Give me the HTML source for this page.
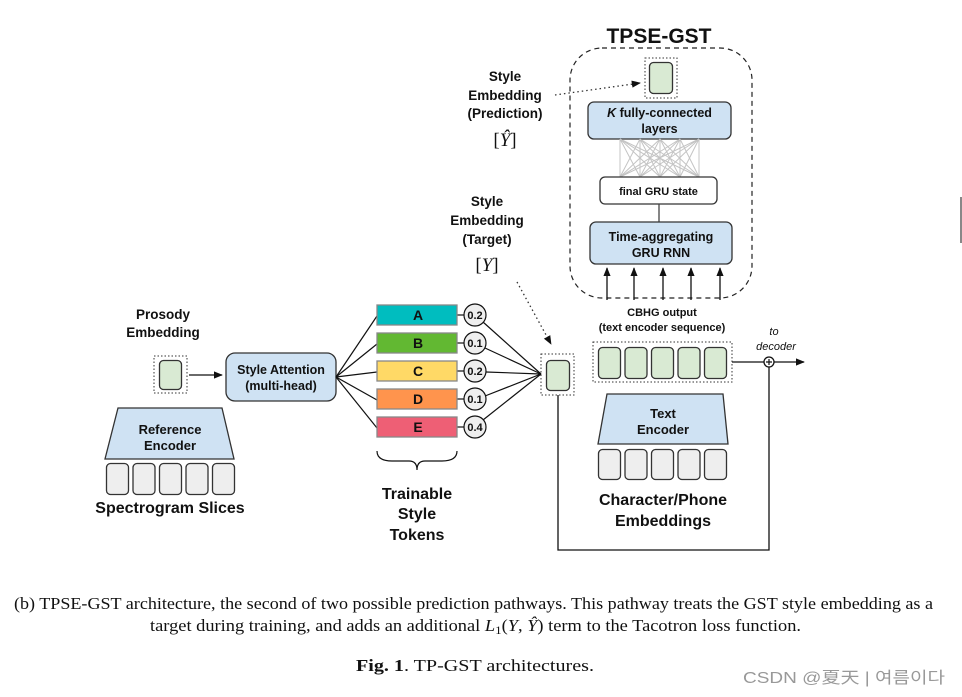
<!DOCTYPE html>
<html><head><meta charset="utf-8"><style>
html,body{margin:0;padding:0;background:#fff;}
svg{display:block;}
.b{font-family:"Liberation Sans",sans-serif;font-weight:bold;fill:#111;}
.s{font-family:"Liberation Serif",serif;fill:#111;}
</style></head><body>
<svg width="962" height="697" viewBox="0 0 962 697" xmlns="http://www.w3.org/2000/svg">
<defs>
<marker id="ah" viewBox="0 0 10 10" refX="9" refY="5" markerWidth="7" markerHeight="7" orient="auto"><path d="M0,1 L10,5 L0,9 z" fill="#111"/></marker>
</defs>
<rect x="960" y="197" width="2" height="46" fill="#888"/>

<!-- TPSE-GST -->
<text x="659" y="43" text-anchor="middle" class="b" font-size="21">TPSE-GST</text>
<rect x="570" y="48" width="182" height="250" rx="32" fill="none" stroke="#222" stroke-dasharray="5,4" stroke-width="1.2"/>
<rect x="645" y="58" width="32" height="40" fill="none" stroke="#333" stroke-dasharray="1.5,2"/>
<rect x="649.5" y="62.5" width="23" height="31" rx="4" fill="#d9ead3" stroke="#333" stroke-width="1.3"/>
<rect x="588" y="102" width="143" height="37" rx="6" fill="#cfe2f3" stroke="#333" stroke-width="1.3"/>
<text x="659.5" y="117" text-anchor="middle" class="b" font-size="12.5"><tspan font-style="italic">K</tspan> fully-connected</text>
<text x="659.5" y="133" text-anchor="middle" class="b" font-size="12.5">layers</text>
<g stroke="#c4c4c4" stroke-width="1">
<line x1="620" y1="139" x2="620" y2="177"/><line x1="640" y1="139" x2="640" y2="177"/><line x1="660" y1="139" x2="660" y2="177"/><line x1="680" y1="139" x2="680" y2="177"/><line x1="699" y1="139" x2="699" y2="177"/>
<path d="M620,139 L640,177 M620,139 L660,177 M620,139 L680,177 M620,139 L699,177 M640,139 L620,177 M640,139 L660,177 M640,139 L680,177 M640,139 L699,177 M660,139 L620,177 M660,139 L640,177 M660,139 L680,177 M660,139 L699,177 M680,139 L620,177 M680,139 L640,177 M680,139 L660,177 M680,139 L699,177 M699,139 L620,177 M699,139 L640,177 M699,139 L660,177 M699,139 L680,177"/>
</g>
<rect x="600" y="177" width="117" height="27" rx="5" fill="#fff" stroke="#333" stroke-width="1.3"/>
<text x="658.5" y="195" text-anchor="middle" class="b" font-size="11">final GRU state</text>
<line x1="659" y1="204" x2="659" y2="222" stroke="#444" stroke-width="1.3"/>
<rect x="590" y="222" width="142" height="42" rx="6" fill="#cfe2f3" stroke="#333" stroke-width="1.3"/>
<text x="661" y="241" text-anchor="middle" class="b" font-size="12.5">Time-aggregating</text>
<text x="661" y="257" text-anchor="middle" class="b" font-size="12.5">GRU RNN</text>
<g stroke="#111" stroke-width="1.3">
<line x1="607" y1="300" x2="607" y2="268" marker-end="url(#ah)"/>
<line x1="634" y1="300" x2="634" y2="268" marker-end="url(#ah)"/>
<line x1="663" y1="300" x2="663" y2="268" marker-end="url(#ah)"/>
<line x1="691" y1="300" x2="691" y2="268" marker-end="url(#ah)"/>
<line x1="720" y1="300" x2="720" y2="268" marker-end="url(#ah)"/>
</g>

<!-- Style embedding prediction -->
<text x="505" y="81" text-anchor="middle" class="b" font-size="13.5">Style</text>
<text x="505" y="100" text-anchor="middle" class="b" font-size="13.5">Embedding</text>
<text x="505" y="118" text-anchor="middle" class="b" font-size="13.5">(Prediction)</text>
<text x="505" y="146" text-anchor="middle" class="s" font-size="19">[<tspan font-style="italic">Ŷ</tspan>]</text>
<line x1="555" y1="95" x2="640" y2="83" stroke="#333" stroke-dasharray="1.5,3" stroke-width="1.3" marker-end="url(#ah)"/>

<!-- Style embedding target -->
<text x="487" y="206" text-anchor="middle" class="b" font-size="13.5">Style</text>
<text x="487" y="225" text-anchor="middle" class="b" font-size="13.5">Embedding</text>
<text x="487" y="244" text-anchor="middle" class="b" font-size="13.5">(Target)</text>
<text x="487" y="271" text-anchor="middle" class="s" font-size="19">[<tspan font-style="italic">Y</tspan>]</text>
<line x1="517" y1="282" x2="551" y2="344" stroke="#333" stroke-dasharray="1.5,3" stroke-width="1.3" marker-end="url(#ah)"/>

<rect x="541" y="354" width="33" height="41" fill="none" stroke="#333" stroke-dasharray="1.5,2"/>
<rect x="546.5" y="360.5" width="23" height="30" rx="4" fill="#d9ead3" stroke="#333" stroke-width="1.3"/>

<!-- CBHG -->
<text x="662" y="316" text-anchor="middle" class="b" font-size="11">CBHG output</text>
<text x="662" y="331" text-anchor="middle" class="b" font-size="11">(text encoder sequence)</text>
<rect x="593" y="342" width="139" height="40" fill="none" stroke="#333" stroke-dasharray="1.5,2"/>
<g fill="#d9ead3" stroke="#333" stroke-width="1.3">
<rect x="598.5" y="347.5" width="22" height="31" rx="4"/><rect x="625" y="347.5" width="22" height="31" rx="4"/><rect x="651.5" y="347.5" width="22" height="31" rx="4"/><rect x="678" y="347.5" width="22" height="31" rx="4"/><rect x="704.5" y="347.5" width="22" height="31" rx="4"/>
</g>
<line x1="732" y1="362" x2="764" y2="362" stroke="#111" stroke-width="1.3"/>
<circle cx="769" cy="362" r="5" fill="#fff" stroke="#111" stroke-width="1.3"/>
<path d="M766,362 h6 M769,359 v6" stroke="#111" stroke-width="1.2"/>
<line x1="774" y1="362" x2="804" y2="362" stroke="#111" stroke-width="1.3" marker-end="url(#ah)"/>
<text x="774" y="335" text-anchor="middle" font-family="Liberation Sans,sans-serif" font-style="italic" font-size="11" fill="#111">to</text>
<text x="776" y="350" text-anchor="middle" font-family="Liberation Sans,sans-serif" font-style="italic" font-size="11" fill="#111">decoder</text>
<polygon points="607,394 723,394 728,444 598,444" fill="#cfe2f3" stroke="#333" stroke-width="1.3"/>
<text x="663" y="418" text-anchor="middle" class="b" font-size="13">Text</text>
<text x="663" y="434" text-anchor="middle" class="b" font-size="13">Encoder</text>
<g fill="#eee" stroke="#333" stroke-width="1.3">
<rect x="598.5" y="449.5" width="22" height="30" rx="4"/><rect x="625" y="449.5" width="22" height="30" rx="4"/><rect x="651.5" y="449.5" width="22" height="30" rx="4"/><rect x="678" y="449.5" width="22" height="30" rx="4"/><rect x="704.5" y="449.5" width="22" height="30" rx="4"/>
</g>
<text x="663" y="505" text-anchor="middle" class="b" font-size="16">Character/Phone</text>
<text x="663" y="526" text-anchor="middle" class="b" font-size="16">Embeddings</text>
<polyline points="558,395 558,550 769,550 769,367" fill="none" stroke="#111" stroke-width="1.3"/>

<!-- Left part -->
<text x="163" y="319" text-anchor="middle" class="b" font-size="13.5">Prosody</text>
<text x="163" y="337" text-anchor="middle" class="b" font-size="13.5">Embedding</text>
<rect x="154" y="356" width="33" height="37" fill="none" stroke="#333" stroke-dasharray="1.5,2"/>
<rect x="159.5" y="360.5" width="22" height="29" rx="4" fill="#d9ead3" stroke="#333" stroke-width="1.3"/>
<line x1="189" y1="375" x2="222" y2="375" stroke="#111" stroke-width="1.3" marker-end="url(#ah)"/>
<rect x="226" y="353" width="110" height="48" rx="9" fill="#cfe2f3" stroke="#333" stroke-width="1.3"/>
<text x="281" y="374" text-anchor="middle" class="b" font-size="12.5">Style Attention</text>
<text x="281" y="390" text-anchor="middle" class="b" font-size="12.5">(multi-head)</text>
<polygon points="118,408 222,408 234,459 105,459" fill="#cfe2f3" stroke="#333" stroke-width="1.3"/>
<text x="170" y="434" text-anchor="middle" class="b" font-size="13">Reference</text>
<text x="170" y="450" text-anchor="middle" class="b" font-size="13">Encoder</text>
<g fill="#eee" stroke="#333" stroke-width="1.3">
<rect x="106.5" y="463.5" width="22" height="31" rx="4"/><rect x="133" y="463.5" width="22" height="31" rx="4"/><rect x="159.5" y="463.5" width="22" height="31" rx="4"/><rect x="186" y="463.5" width="22" height="31" rx="4"/><rect x="212.5" y="463.5" width="22" height="31" rx="4"/>
</g>
<text x="170" y="513" text-anchor="middle" class="b" font-size="16">Spectrogram Slices</text>

<!-- tokens -->
<g stroke="#111" stroke-width="1.2">
<line x1="336" y1="377" x2="377" y2="316"/><line x1="336" y1="377" x2="377" y2="344"/><line x1="336" y1="377" x2="377" y2="372"/><line x1="336" y1="377" x2="377" y2="400"/><line x1="336" y1="377" x2="377" y2="428"/>
<line x1="483" y1="322" x2="541" y2="374"/><line x1="485" y1="348" x2="541" y2="374"/><line x1="486" y1="372" x2="541" y2="374"/><line x1="485" y1="396" x2="541" y2="374"/><line x1="483" y1="420" x2="541" y2="374"/>
<line x1="457" y1="315" x2="464" y2="315"/><line x1="457" y1="343" x2="464" y2="343"/><line x1="457" y1="371" x2="464" y2="371"/><line x1="457" y1="399" x2="464" y2="399"/><line x1="457" y1="427" x2="464" y2="427"/>
</g>
<g stroke="#888" stroke-width="1.3">
<rect x="377" y="305" width="80" height="20" fill="#00bdbf"/>
<rect x="377" y="333" width="80" height="20" fill="#62b832"/>
<rect x="377" y="361" width="80" height="20" fill="#ffd966"/>
<rect x="377" y="389" width="80" height="20" fill="#ff944d"/>
<rect x="377" y="417" width="80" height="20" fill="#ee5f75"/>
</g>
<g class="b" font-size="14" text-anchor="middle">
<text x="418" y="320">A</text><text x="418" y="348">B</text><text x="418" y="376">C</text><text x="418" y="404">D</text><text x="418" y="432">E</text>
</g>
<g fill="#eee" stroke="#111" stroke-width="1.2">
<circle cx="475" cy="315" r="11"/><circle cx="475" cy="343" r="11"/><circle cx="475" cy="371" r="11"/><circle cx="475" cy="399" r="11"/><circle cx="475" cy="427" r="11"/>
</g>
<g class="b" font-size="11" text-anchor="middle">
<text x="475" y="319">0.2</text><text x="475" y="347">0.1</text><text x="475" y="375">0.2</text><text x="475" y="403">0.1</text><text x="475" y="431">0.4</text>
</g>
<path d="M377,451 Q377,461 392,461 L409,461 Q417,461 417,470 Q417,461 425,461 L442,461 Q457,461 457,451" fill="none" stroke="#111" stroke-width="1.2"/>
<text x="417" y="499" text-anchor="middle" class="b" font-size="16">Trainable</text>
<text x="417" y="519" text-anchor="middle" class="b" font-size="16">Style</text>
<text x="417" y="540" text-anchor="middle" class="b" font-size="16">Tokens</text>

<!-- caption -->
<text x="14" y="609" class="s" font-size="17" textLength="919" lengthAdjust="spacingAndGlyphs">(b) TPSE-GST architecture, the second of two possible prediction pathways. This pathway treats the GST style embedding as a</text>
<text x="150" y="631" class="s" font-size="17" textLength="651" lengthAdjust="spacingAndGlyphs">target during training, and adds an additional <tspan font-style="italic">L</tspan><tspan font-size="12" dy="3">1</tspan><tspan dy="-3">(<tspan font-style="italic">Y</tspan>, <tspan font-style="italic">Ŷ</tspan>) term to the Tacotron loss function.</tspan></text>
<text x="356" y="671" class="s" font-size="17" textLength="238" lengthAdjust="spacingAndGlyphs"><tspan font-weight="bold">Fig. 1</tspan>. TP-GST architectures.</text>
<text x="743" y="683" font-family="Liberation Sans,'Noto Sans CJK SC',sans-serif" font-size="16" fill="#999" textLength="202" lengthAdjust="spacingAndGlyphs">CSDN @夏天 | 여름이다</text>
</svg>
</body></html>
